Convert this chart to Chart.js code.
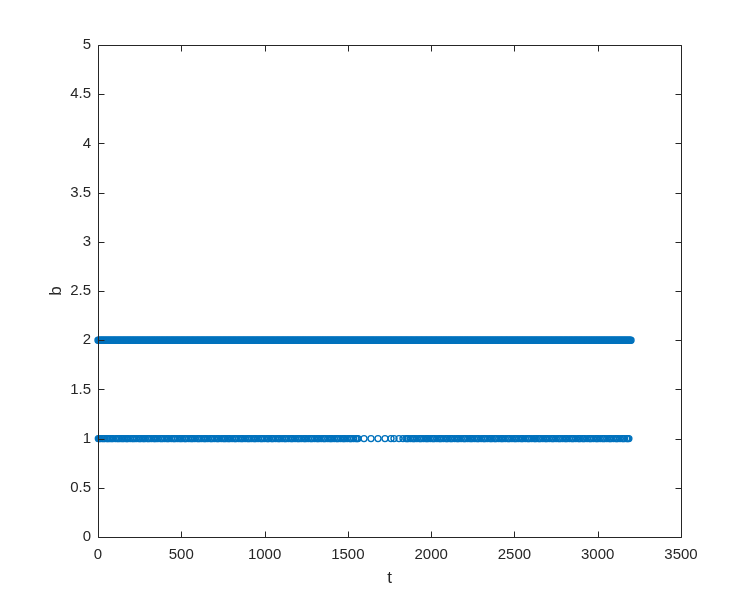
<!DOCTYPE html>
<html><head><meta charset="utf-8">
<script src="https://cdn.jsdelivr.net/npm/chart.js@4"></script>
<style>html,body{margin:0;padding:0;background:#fff}canvas{display:block}</style>
</head><body>
<canvas id="c" width="752" height="605"></canvas>
<script>
const xTicks = [0, 500, 1000, 1500, 2000, 2500, 3000, 3500];
const yTicks = [0, 0.5, 1, 1.5, 2, 2.5, 3, 3.5, 4, 4.5, 5];
const xTitle = 't';
const yTitle = 'b';

// t values where b = 2 (dense row)
const tAtB2 = [
0,10,20,30,40,50,60,70,80,90,100,110,120,130,140,150,160,170,180,190,
200,210,220,230,240,250,260,270,280,290,300,310,320,330,340,350,360,370,380,390,
400,410,420,430,440,450,460,470,480,490,500,510,520,530,540,550,560,570,580,590,
600,610,620,630,640,650,660,670,680,690,700,710,720,730,740,750,760,770,780,790,
800,810,820,830,840,850,860,870,880,890,900,910,920,930,940,950,960,970,980,990,
1000,1010,1020,1030,1040,1050,1060,1070,1080,1090,1100,1110,1120,1130,1140,1150,1160,1170,1180,1190,
1200,1210,1220,1230,1240,1250,1260,1270,1280,1290,1300,1310,1320,1330,1340,1350,1360,1370,1380,1390,
1400,1410,1420,1430,1440,1450,1460,1470,1480,1490,1500,1510,1520,1530,1540,1550,1560,1570,1580,1590,
1600,1610,1620,1630,1640,1650,1660,1670,1680,1690,1700,1710,1720,1730,1740,1750,1760,1770,1780,1790,
1800,1810,1820,1830,1840,1850,1860,1870,1880,1890,1900,1910,1920,1930,1940,1950,1960,1970,1980,1990,
2000,2010,2020,2030,2040,2050,2060,2070,2080,2090,2100,2110,2120,2130,2140,2150,2160,2170,2180,2190,
2200,2210,2220,2230,2240,2250,2260,2270,2280,2290,2300,2310,2320,2330,2340,2350,2360,2370,2380,2390,
2400,2410,2420,2430,2440,2450,2460,2470,2480,2490,2500,2510,2520,2530,2540,2550,2560,2570,2580,2590,
2600,2610,2620,2630,2640,2650,2660,2670,2680,2690,2700,2710,2720,2730,2740,2750,2760,2770,2780,2790,
2800,2810,2820,2830,2840,2850,2860,2870,2880,2890,2900,2910,2920,2930,2940,2950,2960,2970,2980,2990,
3000,3010,3020,3030,3040,3050,3060,3070,3080,3090,3100,3110,3120,3130,3140,3150,3160,3170,3180,3190,
3200,
5,15,25,35,45,55,65,75,85,95,105,115,125,135,145,155,165,175,185,195,
205,215,225,235,245,255,265,275,285,295,305,315,325,335,345,355,365,375,385,395,
405,415,425,435,445,455,465,475,485,495,505,515,525,535,545,555,565,575,585,595,
605,615,625,635,645,655,665,675,685,695,705,715,725,735,745,755,765,775,785,795,
805,815,825,835,845,855,865,875,885,895,905,915,925,935,945,955,965,975,985,995,
1005,1015,1025,1035,1045,1055,1065,1075,1085,1095,1105,1115,1125,1135,1145,1155,1165,1175,1185,1195,
1205,1215,1225,1235,1245,1255,1265,1275,1285,1295,1305,1315,1325,1335,1345,1355,1365,1375,1385,1395,
1405,1415,1425,1435,1445,1455,1465,1475,1485,1495,1505,1515,1525,1535,1545,1555,1565,1575,1585,1595,
1605,1615,1625,1635,1645,1655,1665,1675,1685,1695,1705,1715,1725,1735,1745,1755,1765,1775,1785,1795,
1805,1815,1825,1835,1845,1855,1865,1875,1885,1895,1905,1915,1925,1935,1945,1955,1965,1975,1985,1995,
2005,2015,2025,2035,2045,2055,2065,2075,2085,2095,2105,2115,2125,2135,2145,2155,2165,2175,2185,2195,
2205,2215,2225,2235,2245,2255,2265,2275,2285,2295,2305,2315,2325,2335,2345,2355,2365,2375,2385,2395,
2405,2415,2425,2435,2445,2455,2465,2475,2485,2495,2505,2515,2525,2535,2545,2555,2565,2575,2585,2595,
2605,2615,2625,2635,2645,2655,2665,2675,2685,2695,2705,2715,2725,2735,2745,2755,2765,2775,2785,2795,
2805,2815,2825,2835,2845,2855,2865,2875,2885,2895,2905,2915,2925,2935,2945,2955,2965,2975,2985,2995,
3005,3015,3025,3035,3045,3055,3065,3075,3085,3095,3105,3115,3125,3135,3145,3155,3165,3175,3185,3195
];

// t values where b = 1 (sparser row)
const tAtB1 = [
2,8,14,25,33,40,52,58,66,75,83,90,104,115,122,130,141,148,156,168,174,180,193,205,212,220,231,244,
251,258,270,276,283,296,302,310,322,335,341,349,360,374,381,388,400,412,419,426,440,452,458,465,478,490,497,505,
518,524,530,544,556,563,570,582,596,603,610,622,635,641,648,660,674,680,687,700,713,719,726,740,752,759,766,
778,785,792,805,818,824,830,844,856,863,870,883,896,903,910,922,935,941,948,961,975,981,988,1000,1014,1020,1026,
1040,1046,1052,1066,1079,1086,1092,1105,1118,1124,1131,1144,1157,1163,1170,1183,1196,1203,1210,1222,1236,1242,1249,1262,1275,1281,1288,
1301,1314,1320,1327,1340,1353,1359,1366,1380,1392,1398,1405,1418,1431,1437,1444,1457,1470,1476,1483,1496,1510,1516,1522,1535,1548,
1555,1561,1597,1639,1681,1723,1759,1777,1807,1831,
1849,1856,1862,1876,1889,1895,1902,1915,1929,1935,1942,1955,1968,1975,1982,1995,2008,2014,2021,2035,2048,2054,2061,2074,2088,2094,2101,
2114,2120,2127,2141,2154,2160,2167,2180,2194,2200,2207,2220,2233,2240,2247,2260,2273,2280,2286,2300,2313,2319,2326,2339,2353,2359,2366,
2379,2385,2392,2406,2419,2425,2432,2445,2459,2465,2472,2485,2498,2505,2512,2525,2538,2545,2551,2565,2578,2584,2591,2604,2618,2624,2631,
2644,2650,2657,2671,2684,2690,2697,2710,2724,2730,2737,2750,2763,2770,2777,2790,2803,2809,2816,2830,2843,2849,2856,2869,2883,2889,2896,
2909,2915,2922,2936,2949,2955,2962,2975,2989,2995,3002,3015,3028,3035,3042,3055,3068,3074,3081,3095,3108,3114,3121,3134,3148,3154,3161,
3174,3180,3187
];

const points = [];
tAtB2.forEach(t => points.push({x: t, y: 2}));
tAtB1.forEach(t => points.push({x: t, y: 1}));

const AX = '#262626';
const FONT = '"Liberation Sans", Arial, sans-serif';

const boxPlugin = {
  id: 'matlabBox',
  afterDatasetsDraw(chart) {
    const {ctx, chartArea: a, scales} = chart;
    const xs = scales.x, ys = scales.y;
    ctx.save();
    ctx.strokeStyle = AX;
    ctx.lineWidth = 1;
    ctx.beginPath();
    const L = Math.round(a.left) + 0.5, R = Math.round(a.right) + 0.5;
    const T = Math.round(a.top) + 0.5, B = Math.round(a.bottom) + 0.5;
    ctx.rect(L, T, R - L, B - T);
    const tl = 6;
    xTicks.forEach(v => {
      const p = Math.round(xs.getPixelForValue(v)) + 0.5;
      ctx.moveTo(p, B); ctx.lineTo(p, B - tl);
      ctx.moveTo(p, T); ctx.lineTo(p, T + tl);
    });
    yTicks.forEach(v => {
      const p = Math.round(ys.getPixelForValue(v)) + 0.5;
      ctx.moveTo(L, p); ctx.lineTo(L + tl, p);
      ctx.moveTo(R, p); ctx.lineTo(R - tl, p);
    });
    ctx.stroke();
    ctx.fillStyle = AX;
    ctx.font = '17px ' + FONT;
    ctx.textAlign = 'center';
    ctx.textBaseline = 'middle';
    ctx.fillText(xTitle, (a.left + a.right) / 2, 578);
    ctx.save();
    ctx.translate(56, (a.top + a.bottom) / 2);
    ctx.rotate(-Math.PI / 2);
    ctx.fillText(yTitle, 0, 0);
    ctx.restore();
    ctx.restore();
  }
};

new Chart(document.getElementById('c'), {
  type: 'scatter',
  data: {
    datasets: [{
      data: points,
      pointStyle: 'circle',
      pointRadius: 3,
      pointBorderWidth: 1.4,
      borderColor: '#0072BD',
      backgroundColor: 'rgba(0,0,0,0)',
      pointHoverRadius: 3,
      clip: false
    }]
  },
  options: {
    responsive: false,
    animation: false,
    events: [],
    layout: {padding: {left: 0, top: 45, right: 71, bottom: 0}},
    plugins: {legend: {display: false}, tooltip: {enabled: false}},
    scales: {
      x: {
        type: 'linear', min: 0, max: 3500,
        afterBuildTicks: s => { s.ticks = xTicks.map(v => ({value: v})); },
        afterFit: s => { s.height = 68; },
        grid: {display: false, drawTicks: false},
        border: {display: false},
        ticks: {color: AX, padding: 9, maxRotation: 0, autoSkip: false,
                font: {family: FONT, size: 15}, callback: v => String(v)}
      },
      y: {
        type: 'linear', min: 0, max: 5,
        afterBuildTicks: s => { s.ticks = yTicks.map(v => ({value: v})); },
        afterFit: s => { s.width = 98; },
        grid: {display: false, drawTicks: false},
        border: {display: false},
        ticks: {color: AX, padding: 7, autoSkip: false,
                font: {family: FONT, size: 15}, callback: v => String(v)}
      }
    }
  },
  plugins: [boxPlugin]
});
</script>
</body></html>
